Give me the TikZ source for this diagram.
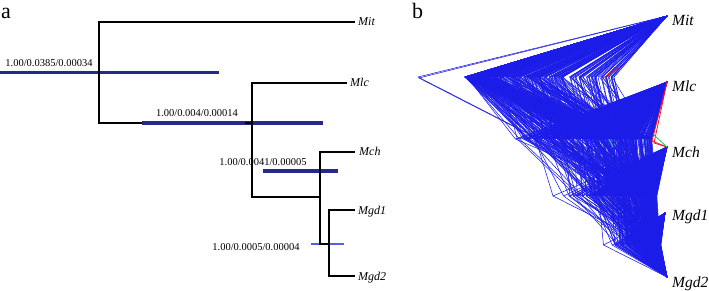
\documentclass[tikz,border=0pt]{standalone}
\usepackage{fontspec}
\setmainfont{Liberation Serif}
\definecolor{hpddark}{RGB}{38,40,138}
\definecolor{hpdlight}{RGB}{85,95,215}
\definecolor{dtblue}{RGB}{28,28,232}
\definecolor{dtred}{RGB}{235,20,40}
\definecolor{dtgreen}{RGB}{40,200,60}
\definecolor{dtcyan}{RGB}{60,200,190}
\begin{document}
\begin{tikzpicture}[x=1pt,y=-1pt,
  branch/.style={line width=2.4pt,black},
  hpd/.style={line width=3.8pt,hpddark},
  hpdthin/.style={line width=2.2pt,hpdlight},
  tipa/.style={font=\fontsize{12}{12}\selectfont\itshape,anchor=base west,inner sep=0pt},
  tipb/.style={font=\fontsize{15.5}{15.5}\selectfont\itshape,anchor=base west,inner sep=0pt},
  support/.style={font=\fontsize{10.5}{10.5}\selectfont,inner sep=0pt},
  panel/.style={font=\fontsize{22}{22}\selectfont,anchor=base west,inner sep=0pt},
  dt/.style={line width=0.55pt,dtblue,line join=round}]
\useasboundingbox (0,0) rectangle (709,290);

% ---------------- panel a ----------------
\node[panel] (la) at (1,18) {a};
\coordinate (ra) at (99,72);
\coordinate (n1) at (252,123);
\coordinate (n2) at (320,197);
\coordinate (n3) at (329,244);
\coordinate (eMit) at (355,22);
\coordinate (eMlc) at (347,83);
\coordinate (eMch) at (355,152);
\coordinate (eMgdA) at (355,210);
\coordinate (eMgdB) at (355,276);
\node[tipa] (tMit) at (358,25.5) {Mit};
\node[tipa] (tMlc) at (350,86.5) {Mlc};
\node[tipa] (tMch) at (359,155.5) {Mch};
\node[tipa] (tMgdA) at (358,214) {Mgd1};
\node[tipa] (tMgdB) at (358,280) {Mgd2};

\draw[hpd] (0,72.5) -- (219,72.5);
\draw[hpd] (142,123) -- (323,123);
\draw[hpd] (263,171) -- (338,171);
\draw[hpdthin] (311,244) -- (344,244);

\draw[branch] (ra) |- (eMit);
\draw[branch] (ra) |- (n1);
\draw[branch] (n1) |- (eMlc);
\draw[branch] (n1) |- (n2);
\draw[branch] (n2) |- (eMch);
\draw[branch] (n2) |- (n3);
\draw[branch] (n3) |- (eMgdA);
\draw[branch] (n3) |- (eMgdB);
\draw[hpd] (142,123) -- (245,123);

\node[support] (s1) at (49,63) {1.00/0.0385/0.00034};
\node[support] (s2) at (197,113) {1.00/0.004/0.00014};
\node[support] (s3) at (263,162) {1.00/0.0041/0.00005};
\node[support] (s4) at (256,247) {1.00/0.0005/0.00004};

% ---------------- panel b ----------------
\node[panel] (lb) at (412,18) {b};
\coordinate (bMit) at (667,16);
\coordinate (bMlc) at (667,82);
\coordinate (bMch) at (667,147);
\coordinate (bMgdA) at (665,213);
\coordinate (bMgdB) at (667,277);
\node[tipb] (lMit) at (672,25.5) {Mit};
\node[tipb] (lMlc) at (672,91.5) {Mlc};
\node[tipb] (lMch) at (672,157.5) {Mch};
\node[tipb] (lMgdA) at (672,220.5) {Mgd1};
\node[tipb] (lMgdB) at (672,287) {Mgd2};

\pgfmathsetseed{4711}
\foreach \i in {1,...,360}{
  \pgfmathsetmacro\ua{rnd}
  \pgfmathsetmacro\ub{rnd}
  \pgfmathsetmacro\uc{rnd}
  \pgfmathsetmacro\ud{rnd}
  \pgfmathsetmacro\xr{465+150*\ua*\ua*sqrt(\ua)}
  \pgfmathsetmacro\xa{max(\xr+14,515+137*sqrt(\ub)*sqrt(sqrt(\ub)))}
  \pgfmathsetmacro\xb{min(657,max(\xa+4,553+104*sqrt(\uc)))}
  \pgfmathsetmacro\xc{min(661,max(\xb+3,598+63*sqrt(\ud)))}
  \draw[dt] (bMit) -- (\xr,77) -- (\xa,139) -- (bMlc)
            (\xa,139) -- (\xb,196) -- (bMch)
            (\xb,196) -- (\xc,245) -- (bMgdA)
            (\xc,245) -- (bMgdB);
}
% outlier trees
\draw[dt] (bMit) -- (418,77) -- (535,137) -- (bMlc)
          (535,137) -- (553,196) -- (bMch)
          (553,196) -- (650,245) -- (bMgdA) (650,245) -- (bMgdB);
\draw[dt] (bMit) -- (419,78) -- (540,140) -- (bMlc)
          (540,140) -- (590,196) -- (bMch)
          (590,196) -- (640,245) -- (bMgdA) (640,245) -- (bMgdB);
% other topologies
\draw[line width=0.8pt,dtred] (bMlc) -- (652,141) -- (bMch);
\draw[line width=0.8pt,dtred] (bMlc) -- (654,143) -- (bMch);
\draw[line width=0.8pt,dtred] (603,78) -- (620,67);
\draw[line width=0.8pt,dtgreen] (654,135) -- (bMch);
\draw[line width=1pt,dtcyan] (609,139) -- (613,147);
\end{tikzpicture}
\end{document}
